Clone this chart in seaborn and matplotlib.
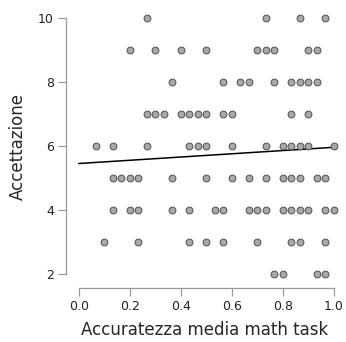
import numpy as np
import pandas as pd
import matplotlib
matplotlib.use("Agg")
import matplotlib.pyplot as plt
import seaborn as sns

# Data: accuracy (in thirtieths of the math task) grouped by acceptance score
acc_y10 = [8, 22, 26, 29]
acc_y9 = [6, 9, 12, 15, 21, 22, 23, 27, 28]
acc_y8 = [11, 17, 19, 20, 23, 25, 26, 27, 28]
acc_y7 = [8, 9, 10, 12, 13, 14, 15, 17, 18, 25, 27]
acc_y6 = [2, 4, 8, 13, 14, 15, 18, 22, 24, 25, 26, 27, 30]
acc_y5 = [4, 5, 6, 7, 11, 18, 20, 22, 24, 25, 26, 28, 29]
acc_y4 = [4, 6, 7, 11, 13, 16, 17, 20, 21, 22, 24, 25, 26, 27, 29, 30]
acc_y3 = [3, 7, 13, 15, 17, 21, 25, 26, 29]
acc_y2 = [23, 24, 28, 29]
# overlapping observations hidden under visible points (estimated from the fit line)
dup_acc = [26, 3, 7, 13, 15]
dup_acc_y = [10, 3, 3, 3, 5]

groups = {10: acc_y10, 9: acc_y9, 8: acc_y8, 7: acc_y7, 6: acc_y6,
          5: acc_y5, 4: acc_y4, 3: acc_y3, 2: acc_y2}
xs, ys = [], []
for yv, lst in groups.items():
    for k in lst:
        xs.append(k / 30.0)
        ys.append(yv)
for k, yv in zip(dup_acc, dup_acc_y):
    xs.append(k / 30.0)
    ys.append(yv)
XL = "Accuratezza media math task"
YL = "Accettazione"
df = pd.DataFrame({XL: xs, YL: ys})

x_ticks = [0.0, 0.2, 0.4, 0.6, 0.8, 1.0]
x_ticklabels = ["0.0", "0.2", "0.4", "0.6", "0.8", "1.0"]
y_ticks = [2, 4, 6, 8, 10]

sns.set_style("white")
plt.rcParams['font.family'] = ['DejaVu Sans']

fig = plt.figure(figsize=(3.46, 3.42), dpi=100)
W, H = 346, 342
px_per_x = 255.0
px_per_y = 32.04
x0_px = 78.7
y2_px = 274.3
xlim = (-0.051, 1.04)
ylim = (1.58, 10.4)
left = (x0_px + xlim[0] * px_per_x) / W
right = (x0_px + xlim[1] * px_per_x) / W
bottom = (H - (y2_px + (2 - ylim[0]) * px_per_y)) / H
top = (H - (y2_px - (ylim[1] - 2) * px_per_y)) / H
ax = fig.add_axes([left, bottom, right - left, top - bottom])
ax.set_xlim(0, 1)
ax.set_ylim(*ylim)

# regression line from all observations
sns.regplot(data=df, x=XL, y=YL, ax=ax, ci=None, truncate=False, scatter=False,
            line_kws=dict(color="black", lw=1.1, zorder=2))
# points (overlapping observations drawn once)
sns.scatterplot(data=df.drop_duplicates(), x=XL, y=YL, ax=ax,
                s=24, color="#a8a8a8", edgecolor="#505050", linewidth=0.7,
                zorder=3, legend=False)

ax.set_xlim(*xlim)
ax.set_ylim(*ylim)
for s in ["top", "right"]:
    ax.spines[s].set_visible(False)
ax.spines["left"].set_bounds(2, 10)
ax.spines["bottom"].set_bounds(0, 1)
for s in ["left", "bottom"]:
    ax.spines[s].set_color("#9a9a9a")
    ax.spines[s].set_linewidth(0.9)
ax.set_xticks(x_ticks)
ax.set_xticklabels(x_ticklabels)
ax.set_yticks(y_ticks)
ax.tick_params(axis="both", which="major", direction="out", length=5.5,
               width=0.9, color="#9a9a9a", labelsize=9, labelcolor="#222222",
               left=True, bottom=True, pad=3)
ax.set_xlabel(XL, fontsize=12, labelpad=6)
ax.set_ylabel(YL, fontsize=12, labelpad=8)
ax.grid(False)
ax.set_facecolor("white")

fig.savefig("out.png", dpi=100)
